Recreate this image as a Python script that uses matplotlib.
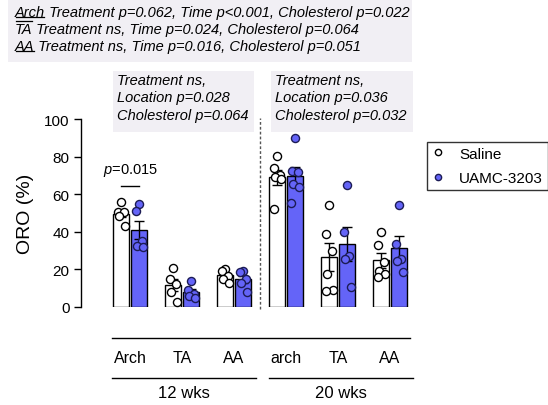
import numpy as np
import matplotlib.pyplot as plt
from matplotlib.lines import Line2D
from matplotlib.patches import Rectangle

plt.rcParams['font.family'] = ['Liberation Sans', 'DejaVu Sans']
plt.rcParams['mathtext.fontset'] = 'custom'
plt.rcParams['mathtext.rm'] = 'Liberation Sans'
plt.rcParams['mathtext.it'] = 'Liberation Sans:italic'

# data
groups = ['Arch', 'TA', 'AA', 'arch', 'TA', 'AA']
ages = ['12 wks', '20 wks']
series = ['Saline', 'UAMC-3203']
saline = [
    [56, 50.7, 50.4, 48.2, 43.2],
    [20.7, 14.9, 12.2, 7.8, 2.8],
    [20.2, 19.3, 16.7, 14.9, 12.8],
    [80.5, 74, 70, 69, 68, 52],
    [54.3, 38.8, 30, 17.6, 9.2, 8.7],
    [40.1, 33, 23.8, 19.3, 17.6, 15.8],
]
uamc = [
    [54.8, 50.9, 35.3, 32.6, 31.9],
    [14, 9, 7, 6, 5],
    [19.3, 18.6, 14.9, 12.6, 7.8],
    [89.7, 72.5, 71.6, 65.4, 63.7, 55.3],
    [64.9, 40.1, 27.3, 25.5, 10.5],
    [54.3, 33.5, 25.5, 24.6, 18.8],
]
header_tags = ['Arch', 'TA', 'AA']
header_stats = [
    ' Treatment p=0.062, Time p<0.001, Cholesterol p=0.022',
    ' Treatment ns, Time p=0.024, Cholesterol p=0.064',
    ' Treatment ns, Time p=0.016, Cholesterol p=0.051',
]
box_stats = [
    'Treatment ns,\nLocation p=0.028\nCholesterol p=0.064',
    'Treatment ns,\nLocation p=0.036\nCholesterol p=0.032',
]
arch_p = '$\\it{p}$=0.015'
yticks = [0, 20, 40, 60, 80, 100]

BLUE = '#6464f8'
GRAY = '#f1eff4'
W, H = 548, 406
jit = np.array([0.0, -0.06, 0.05, -0.04, 0.07, -0.07])

fig = plt.figure(figsize=(W / 100, H / 100), dpi=100)
ax = fig.add_axes([80.7 / W, 1 - 308 / H, (415 - 80.7) / W, 188 / H])

x = np.arange(len(groups))
off, bw = 0.17, 0.31
for i in range(len(groups)):
    for pts, dx, fc, ec in [(saline[i], -off, 'white', 'k'), (uamc[i], off, BLUE, '#1c1c55')]:
        pts = np.array(pts)
        m = pts.mean()
        sem = pts.std(ddof=1) / np.sqrt(len(pts))
        ax.bar(x[i] + dx, m, bw, color=fc, edgecolor='k', lw=1, zorder=2)
        ax.errorbar(x[i] + dx, m, yerr=sem, color='k', capsize=3.5, lw=1, capthick=1, zorder=3)
        ax.scatter(x[i] + dx + jit[:len(pts)], pts, s=34, facecolor=fc, edgecolor=ec,
                   lw=1, zorder=4, clip_on=False)

ax.set_xlim(-0.95, 5.48)
ax.set_ylim(0, 100)
ax.set_yticks(yticks)
ax.tick_params(axis='y', labelsize=11, length=5, width=1, pad=3)
ax.set_xticks([])
for s in ['top', 'right', 'bottom']:
    ax.spines[s].set_visible(False)
ax.spines['left'].set_linewidth(1)
fig.text(25 / W, 1 - 214 / H, 'ORO (%)', rotation=90, ha='center', va='center', fontsize=14)

# divider between ages
ax.plot([2.5, 2.5], [-1, 100.5], ls=(0, (2, 1.5)), color='#555555', lw=1, clip_on=False)

# p value for arch at 12 wks
ax.text(0, 72.9, arch_p, ha='center', va='center', fontsize=10.5)
ax.plot([-0.17, 0.17], [64.4, 64.4], color='k', lw=1)

# bottom labels
ax.plot([-0.35, 5.38], [-16.5, -16.5], color='k', lw=1, clip_on=False)
for i, g in enumerate(groups):
    ax.text(x[i], -26.6, g, ha='center', va='center', fontsize=11.5)
for j, a in enumerate(ages):
    x0, x1 = [(-0.35, 2.42), (2.67, 5.44)][j]
    ax.plot([x0, x1], [-37.8, -37.8], color='k', lw=1, clip_on=False)
    ax.text((x0 + x1) / 2, -45.5, a, ha='center', va='center', fontsize=12)

# stats boxes above each age
for j, txt in enumerate(box_stats):
    x0, x1 = [(-0.33, 2.38), (2.71, 5.44)][j]
    ax.add_patch(Rectangle((x0, 93.1), x1 - x0, 32.4, fc=GRAY, ec='none', clip_on=False, zorder=1))
    ax.text(x0 + 0.08, 124.5, txt, ha='left', va='top', style='italic', fontsize=10.5,
            linespacing=1.3)

# header box
fig.add_artist(Rectangle((8 / W, 1 - 63 / H), (412 - 8) / W, 63 / H,
                         transform=fig.transFigure, fc=GRAY, ec='none', zorder=0))
tags = []
for j, (tag, st) in enumerate(zip(header_tags, header_stats)):
    t = fig.text(15 / W, 1 - (13 + 17 * j) / H, tag, style='italic', fontsize=10.5, va='center')
    ax.annotate(st, xy=(1, 0), xycoords=t, va='bottom', ha='left', style='italic',
                fontsize=10.5, annotation_clip=False)
    tags.append(t)

fig.canvas.draw()
r = fig.canvas.get_renderer()
inv = fig.transFigure.inverted()
desc = 0.212 * 10.5 * 100 / 72
for j, t in enumerate(tags):
    bb = t.get_window_extent(r)
    if j == 1:
        yy = bb.y0 + desc + 12
    else:
        yy = bb.y0 + desc - 1.5
    p0 = inv.transform((bb.x0 + 1, yy))
    p1 = inv.transform((bb.x1 - 1, yy))
    fig.add_artist(Line2D([p0[0], p1[0]], [p0[1], p1[1]], color='k', lw=0.9,
                          transform=fig.transFigure))

# legend
handles = [Line2D([], [], ls='none', marker='o', ms=4.5, mfc='white', mec='k', mew=1),
           Line2D([], [], ls='none', marker='o', ms=4.5, mfc=BLUE, mec='#1c1c55', mew=1)]
leg = fig.legend(handles, series, loc='upper left', bbox_to_anchor=(427 / W, 1 - 143 / H),
                 frameon=True, fancybox=False, edgecolor='k', borderaxespad=0, fontsize=11,
                 handlelength=0.8, handletextpad=1.0, borderpad=0.3, labelspacing=0.7)
leg.get_frame().set_linewidth(1)

fig.savefig('out.png', dpi=100)
